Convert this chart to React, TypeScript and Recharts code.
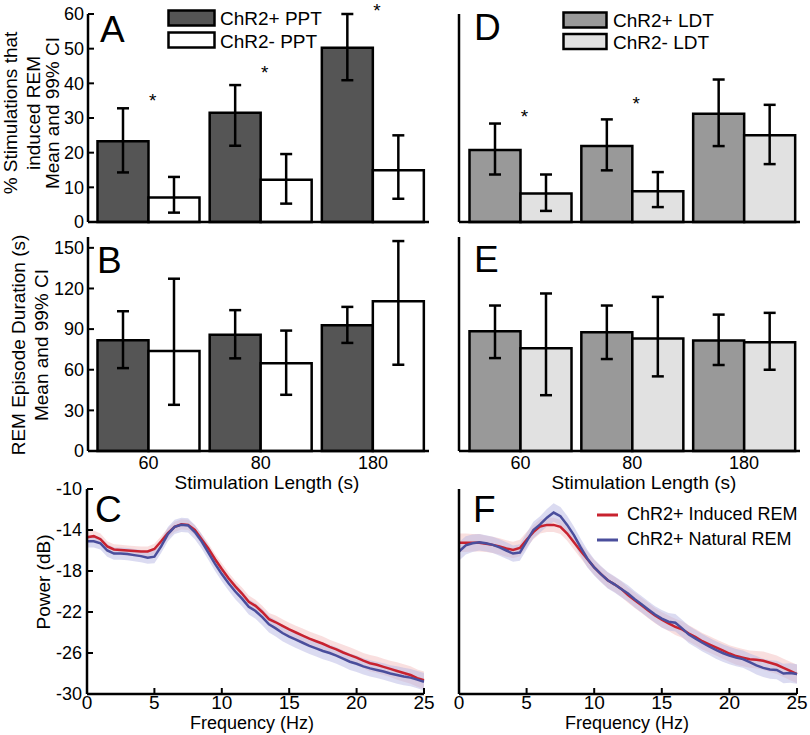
import React from "react";
import {
  BarChart,
  Bar,
  ErrorBar,
  XAxis,
  YAxis,
  ReferenceDot,
  ComposedChart,
  Area,
  Line,
} from "recharts";

const FONT = '"Liberation Sans", Arial, Helvetica, sans-serif';

// stimulation lengths (s)
const stimLengths = ["60", "80", "180"];

// A: % stimulations that induced REM, PPT (mean, 99% CI)
const pptPlusPct = [23.3, 31.5, 50.3];
const pptPlusPctLo = [14.3, 22.0, 40.9];
const pptPlusPctHi = [32.8, 39.5, 60.0];
const pptMinusPct = [7.1, 12.2, 14.9];
const pptMinusPctLo = [2.7, 5.3, 6.7];
const pptMinusPctHi = [13.0, 19.6, 25.0];
const pptStars = [36, 44, 62];

// D: % stimulations that induced REM, LDT
const ldtPlusPct = [20.8, 21.9, 31.2];
const ldtPlusPctLo = [13.7, 14.9, 21.9];
const ldtPlusPctHi = [28.4, 29.6, 41.1];
const ldtMinusPct = [8.2, 8.9, 25.0];
const ldtMinusPctLo = [3.2, 4.3, 16.7];
const ldtMinusPctHi = [13.7, 14.4, 33.8];
const ldtStars = [31.5, 35.2, null];

// B: REM episode duration (s), PPT
const pptPlusDur = [81.7, 85.9, 92.8];
const pptPlusDurLo = [61.2, 68.4, 79.8];
const pptPlusDurHi = [103.2, 104.0, 106.4];
const pptMinusDur = [73.8, 64.7, 110.6];
const pptMinusDurLo = [34.1, 41.5, 63.7];
const pptMinusDurHi = [127.2, 88.9, 155.0];

// E: REM episode duration (s), LDT
const ldtPlusDur = [88.4, 87.7, 81.5];
const ldtPlusDurLo = [68.6, 67.9, 63.5];
const ldtPlusDurHi = [107.4, 107.4, 100.7];
const ldtMinusDur = [75.8, 83.0, 80.2];
const ldtMinusDurLo = [41.2, 55.1, 60.0];
const ldtMinusDurHi = [116.3, 113.8, 102.0];

const pctTicks = [0, 10, 20, 30, 40, 50, 60];
const durTicks = [0, 30, 60, 90, 120, 150];

// C / F: power spectra (dB)
const freqs = [
  0, 0.5, 1, 1.5, 2, 2.5, 3, 3.5, 4, 4.5, 5, 5.5, 6, 6.5, 7, 7.5, 8, 8.5, 9, 9.5,
  10, 10.5, 11, 11.5, 12, 12.5, 13, 13.5, 14, 14.5, 15, 15.5, 16, 16.5, 17, 17.5,
  18, 18.5, 19, 19.5, 20, 20.5, 21, 21.5, 22, 22.5, 23, 23.5, 24, 24.5, 25,
];
const pptInduced = [
  -14.7, -14.6, -14.9, -15.6, -15.9, -15.95, -16.0, -16.05, -16.1, -16.1,
  -15.85, -15.1, -14.3, -13.7, -13.45, -13.5, -14.0, -14.9, -15.8, -16.85,
  -17.8, -18.7, -19.5, -20.2, -21.0, -21.4, -22.0, -22.7, -23.0, -23.35,
  -23.7, -24.0, -24.3, -24.6, -24.85, -25.1, -25.4, -25.65, -25.95, -26.2,
  -26.45, -26.75, -27.0, -27.15, -27.35, -27.55, -27.75, -27.95, -28.15, -28.45, -28.65,
];
const pptNatural = [
  -15.1, -15.1, -15.3, -16.0, -16.3, -16.3, -16.35, -16.45, -16.55, -16.7,
  -16.6, -15.6, -14.4, -13.7, -13.5, -13.55, -14.2, -15.1, -16.2, -17.3,
  -18.3, -19.2, -20.0, -20.7, -21.5, -21.9, -22.5, -23.2, -23.6, -24.05,
  -24.4, -24.7, -25.0, -25.3, -25.55, -25.8, -26.0, -26.25, -26.55, -26.85,
  -27.05, -27.3, -27.5, -27.65, -27.8, -28.0, -28.15, -28.3, -28.4, -28.6, -28.8,
];
const pptInducedCi = [
  0.55, 0.55, 0.55, 0.5, 0.5, 0.5, 0.5, 0.5, 0.5, 0.5,
  0.5, 0.5, 0.5, 0.5, 0.5, 0.5, 0.5, 0.5, 0.5, 0.5,
  0.55, 0.55, 0.55, 0.6, 0.6, 0.6, 0.6, 0.6, 0.65, 0.65,
  0.65, 0.65, 0.7, 0.7, 0.7, 0.7, 0.7, 0.7, 0.75, 0.75,
  0.75, 0.75, 0.8, 0.8, 0.8, 0.8, 0.85, 0.85, 0.85, 0.85, 0.85,
];
const pptNaturalCi = [
  0.6, 0.6, 0.6, 0.6, 0.6, 0.6, 0.6, 0.6, 0.6, 0.6,
  0.65, 0.65, 0.7, 0.7, 0.7, 0.7, 0.7, 0.7, 0.7, 0.7,
  0.7, 0.7, 0.75, 0.75, 0.75, 0.75, 0.8, 0.8, 0.8, 0.8,
  0.8, 0.8, 0.8, 0.8, 0.8, 0.8, 0.8, 0.8, 0.8, 0.8,
  0.8, 0.8, 0.8, 0.8, 0.8, 0.8, 0.85, 0.85, 0.85, 0.85, 0.85,
];
const ldtInduced = [
  -15.25, -15.25, -15.25, -15.25, -15.35, -15.45, -15.6, -15.8, -15.95, -15.75,
  -14.95, -14.2, -13.65, -13.5, -13.5, -13.7, -14.35, -15.2, -16.05, -16.85,
  -17.65, -18.3, -18.9, -19.3, -19.75, -20.35, -20.85, -21.35, -21.85, -22.35,
  -22.75, -23.1, -23.45, -23.7, -24.1, -24.45, -24.85, -25.15, -25.45, -25.75,
  -26.05, -26.3, -26.45, -26.6, -26.65, -26.75, -26.95, -27.15, -27.45, -27.75, -28.05,
];
const ldtNatural = [
  -16.1, -15.5, -15.3, -15.2, -15.3, -15.45, -15.7, -16.0, -16.3, -16.2,
  -15.1, -14.0, -13.45, -12.8, -12.3, -12.65, -13.5, -14.5, -15.7, -16.8,
  -17.65, -18.3, -18.9, -19.3, -19.75, -20.2, -20.75, -21.25, -21.75, -22.25,
  -22.65, -22.95, -23.05, -23.6, -24.2, -24.6, -25.0, -25.35, -25.7, -26.0,
  -26.25, -26.45, -26.6, -26.9, -27.2, -27.45, -27.6, -27.65, -28.0, -27.95, -28.05,
];
const ldtInducedCi = [
  0.9, 0.9, 0.85, 0.85, 0.8, 0.8, 0.8, 0.8, 0.8, 0.8,
  0.75, 0.7, 0.7, 0.7, 0.7, 0.7, 0.7, 0.7, 0.7, 0.75,
  0.75, 0.75, 0.75, 0.75, 0.75, 0.75, 0.75, 0.75, 0.75, 0.75,
  0.75, 0.75, 0.8, 0.8, 0.8, 0.8, 0.8, 0.8, 0.8, 0.8,
  0.8, 0.85, 0.85, 0.85, 0.85, 0.9, 0.9, 0.9, 0.9, 0.9, 0.9,
];
const ldtNaturalCi = [
  0.9, 0.9, 0.85, 0.8, 0.8, 0.8, 0.8, 0.8, 0.8, 0.8,
  0.8, 0.8, 0.8, 0.85, 0.9, 0.9, 0.9, 0.85, 0.85, 0.85,
  0.8, 0.8, 0.8, 0.8, 0.8, 0.8, 0.8, 0.8, 0.8, 0.8,
  0.85, 0.85, 0.85, 0.85, 0.85, 0.85, 0.85, 0.85, 0.85, 0.85,
  0.85, 0.85, 0.85, 0.85, 0.9, 0.9, 0.9, 0.9, 0.95, 0.95, 0.95,
];
const freqTicks = [0, 5, 10, 15, 20, 25];
const powerTicks = [-30, -26, -22, -18, -14, -10];

const RED = "#c8222f";
const BLUE = "#4a4e9c";

const axisLine = { stroke: "#000", strokeWidth: 2.5 };
const tickLine = { stroke: "#000", strokeWidth: 2 };
const yTick = { fill: "#000", fontSize: 18 };
const xTick = { fill: "#000", fontSize: 19 };
const stimTick = { fill: "#000", fontSize: 18 };

function barRows(
  plus: number[], plusLo: number[], plusHi: number[],
  minus: number[], minusLo: number[], minusHi: number[],
) {
  return stimLengths.map((stim, i) => ({
    stim,
    plus: plus[i],
    plusErr: [plus[i] - plusLo[i], plusHi[i] - plus[i]],
    minus: minus[i],
    minusErr: [minus[i] - minusLo[i], minusHi[i] - minus[i]],
  }));
}

function specRows(induced: number[], inducedCi: number[], natural: number[], naturalCi: number[]) {
  return freqs.map((f, i) => ({
    f,
    induced: induced[i],
    natural: natural[i],
    inducedBand: [induced[i] - inducedCi[i], induced[i] + inducedCi[i]],
    naturalBand: [natural[i] - naturalCi[i], natural[i] + naturalCi[i]],
  }));
}

const starShape = (p: any) => (
  <text x={p.cx + 4} y={p.cy + 10} textAnchor="middle" fontSize={19} fill="#000">
    *
  </text>
);

function BarPanel(props: any) {
  const { data, plusFill, minusFill, domain, ticks, yLabels, xLabels, stars, left, top, width, height, margin, yWidth, padLeft } = props;
  return (
    <div style={{ position: "absolute", left, top }}>
      <BarChart width={width} height={height} data={data} margin={margin} barCategoryGap={5} barGap={0}>
        <XAxis
          dataKey="stim"
          height={xLabels ? 30 : 2}
          tick={xLabels ? stimTick : false}
          tickLine={false}
          tickSize={0}
          tickMargin={5}
          axisLine={axisLine}
          padding={{ left: padLeft, right: 0 }}
          interval={0}
        />
        <YAxis
          type="number"
          width={yWidth}
          domain={domain}
          ticks={ticks}
          interval={0}
          tick={yLabels ? yTick : false}
          tickLine={tickLine}
          tickSize={-6}
          tickMargin={10}
          axisLine={axisLine}
        />
        <Bar dataKey="plus" fill={plusFill} stroke="#000" strokeWidth={2.5} isAnimationActive={false}>
          <ErrorBar dataKey="plusErr" width={6} stroke="#000" strokeWidth={2.5} />
        </Bar>
        <Bar dataKey="minus" fill={minusFill} stroke="#000" strokeWidth={2.5} isAnimationActive={false}>
          <ErrorBar dataKey="minusErr" width={6} stroke="#000" strokeWidth={2.5} />
        </Bar>
        {stars &&
          stars.map((s: number | null, i: number) =>
            s == null ? null : (
              <ReferenceDot key={i} x={stimLengths[i]} y={s} ifOverflow="visible" shape={starShape} />
            ),
          )}
      </BarChart>
    </div>
  );
}

function SpectrumPanel(props: any) {
  const { data, left, width, margin, yLabels } = props;
  return (
    <div style={{ position: "absolute", left, top: 480 }}>
      <ComposedChart width={width} height={255} data={data} margin={margin}>
        <XAxis
          dataKey="f"
          type="number"
          domain={[0, 25]}
          ticks={freqTicks}
          interval={0}
          height={30}
          tick={xTick}
          tickLine={tickLine}
          tickSize={-6}
          tickMargin={8}
          axisLine={axisLine}
        />
        <YAxis
          type="number"
          width={87}
          domain={[-30, -10]}
          ticks={powerTicks}
          interval={0}
          tick={yLabels ? yTick : false}
          tickLine={tickLine}
          tickSize={-6}
          tickMargin={11}
          axisLine={axisLine}
        />
        <Area dataKey="inducedBand" stroke="none" fill="#f0b0b0" fillOpacity={0.4} isAnimationActive={false} />
        <Area dataKey="naturalBand" stroke="none" fill="#b8b8e4" fillOpacity={0.5} isAnimationActive={false} />
        <Line dataKey="induced" stroke={RED} strokeWidth={2.5} dot={false} isAnimationActive={false} />
        <Line dataKey="natural" stroke={BLUE} strokeWidth={2.5} dot={false} isAnimationActive={false} />
      </ComposedChart>
    </div>
  );
}

export default function App() {
  const pctPpt = barRows(pptPlusPct, pptPlusPctLo, pptPlusPctHi, pptMinusPct, pptMinusPctLo, pptMinusPctHi);
  const pctLdt = barRows(ldtPlusPct, ldtPlusPctLo, ldtPlusPctHi, ldtMinusPct, ldtMinusPctLo, ldtMinusPctHi);
  const durPpt = barRows(pptPlusDur, pptPlusDurLo, pptPlusDurHi, pptMinusDur, pptMinusDurLo, pptMinusDurHi);
  const durLdt = barRows(ldtPlusDur, ldtPlusDurLo, ldtPlusDurHi, ldtMinusDur, ldtMinusDurLo, ldtMinusDurHi);
  const specPpt = specRows(pptInduced, pptInducedCi, pptNatural, pptNaturalCi);
  const specLdt = specRows(ldtInduced, ldtInducedCi, ldtNatural, ldtNaturalCi);

  return (
    <div
      style={{
        position: "absolute",
        left: 0,
        top: 0,
        width: 810,
        height: 735,
        overflow: "hidden",
        background: "#fff",
        fontFamily: FONT,
      }}
    >
      <BarPanel
        data={pctPpt} plusFill="#555555" minusFill="#ffffff"
        domain={[0, 60]} ticks={pctTicks} yLabels xLabels={false} stars={pptStars}
        left={0} top={0} width={440} height={240} yWidth={88} padLeft={4.5}
        margin={{ top: 14, right: 11, bottom: 16, left: 0 }}
      />
      <BarPanel
        data={pctLdt} plusFill="#999999" minusFill="#e1e1e1"
        domain={[0, 60]} ticks={pctTicks} yLabels={false} xLabels={false} stars={ldtStars}
        left={372} top={0} width={436} height={240} yWidth={87} padLeft={5.5}
        margin={{ top: 14, right: 8, bottom: 16, left: 0 }}
      />
      <BarPanel
        data={durPpt} plusFill="#555555" minusFill="#ffffff"
        domain={[0, 158]} ticks={durTicks} yLabels xLabels
        left={0} top={230} width={440} height={260} yWidth={88} padLeft={4.5}
        margin={{ top: 7, right: 11, bottom: 9, left: 0 }}
      />
      <BarPanel
        data={durLdt} plusFill="#999999" minusFill="#e1e1e1"
        domain={[0, 158]} ticks={durTicks} yLabels={false} xLabels
        left={372} top={230} width={436} height={260} yWidth={87} padLeft={5.5}
        margin={{ top: 7, right: 8, bottom: 9, left: 0 }}
      />
      <SpectrumPanel data={specPpt} left={0} width={440} yLabels margin={{ top: 9, right: 16, bottom: 11, left: 0 }} />
      <SpectrumPanel data={specLdt} left={372} width={436} yLabels={false} margin={{ top: 9, right: 11, bottom: 11, left: 0 }} />

      <svg
        width={810}
        height={735}
        style={{ position: "absolute", left: 0, top: 0, pointerEvents: "none" }}
        fontFamily={FONT}
        fill="#000"
      >
        {/* panel letters */}
        <text x={100} y={42} fontSize={37}>A</text>
        <text x={97} y={273} fontSize={37}>B</text>
        <text x={95} y={522} fontSize={37}>C</text>
        <text x={474} y={40} fontSize={37}>D</text>
        <text x={474} y={272} fontSize={37}>E</text>
        <text x={473} y={522} fontSize={37}>F</text>

        {/* y axis titles */}
        <g fontSize={19} textAnchor="middle">
          <text x={10.5} y={113} dy="0.35em" transform="rotate(-90 10.5 113)">% Stimulations that</text>
          <text x={33} y={113} dy="0.35em" transform="rotate(-90 33 113)">induced REM</text>
          <text x={52} y={113} dy="0.35em" transform="rotate(-90 52 113)">Mean and 99% CI</text>
          <text x={18.5} y={345} dy="0.35em" transform="rotate(-90 18.5 345)">REM Episode Duration (s)</text>
          <text x={41.5} y={345} dy="0.35em" transform="rotate(-90 41.5 345)">Mean and 99% CI</text>
          <text x={43} y={582} dy="0.35em" transform="rotate(-90 43 582)">Power (dB)</text>
        </g>

        {/* x axis titles */}
        <text x={267} y={489} fontSize={19} textAnchor="middle">Stimulation Length (s)</text>
        <text x={644} y={489} fontSize={19} textAnchor="middle">Stimulation Length (s)</text>
        <text x={252} y={729} fontSize={18} textAnchor="middle">Frequency (Hz)</text>
        <text x={627} y={729} fontSize={18} textAnchor="middle">Frequency (Hz)</text>

        {/* legends A / D */}
        <rect x={168.5} y={10.5} width={46} height={15} fill="#555555" stroke="#000" strokeWidth={2.5} />
        <rect x={168.5} y={32.5} width={46} height={15} fill="#ffffff" stroke="#000" strokeWidth={2.5} />
        <text x={220} y={25} fontSize={19}>ChR2+ PPT</text>
        <text x={220} y={48} fontSize={19}>ChR2- PPT</text>
        <rect x={563.5} y={12.5} width={43} height={15} fill="#999999" stroke="#000" strokeWidth={2.5} />
        <rect x={563.5} y={34} width={43} height={15} fill="#e1e1e1" stroke="#000" strokeWidth={2.5} />
        <text x={613} y={27} fontSize={19}>ChR2+ LDT</text>
        <text x={613} y={49} fontSize={19}>ChR2- LDT</text>

        {/* legend F */}
        <line x1={597} x2={618} y1={515} y2={515} stroke={RED} strokeWidth={3} />
        <line x1={597} x2={618} y1={540} y2={540} stroke={BLUE} strokeWidth={3} />
        <text x={627} y={520} fontSize={18}>ChR2+ Induced REM</text>
        <text x={627} y={545} fontSize={18}>ChR2+ Natural REM</text>
      </svg>
    </div>
  );
}
